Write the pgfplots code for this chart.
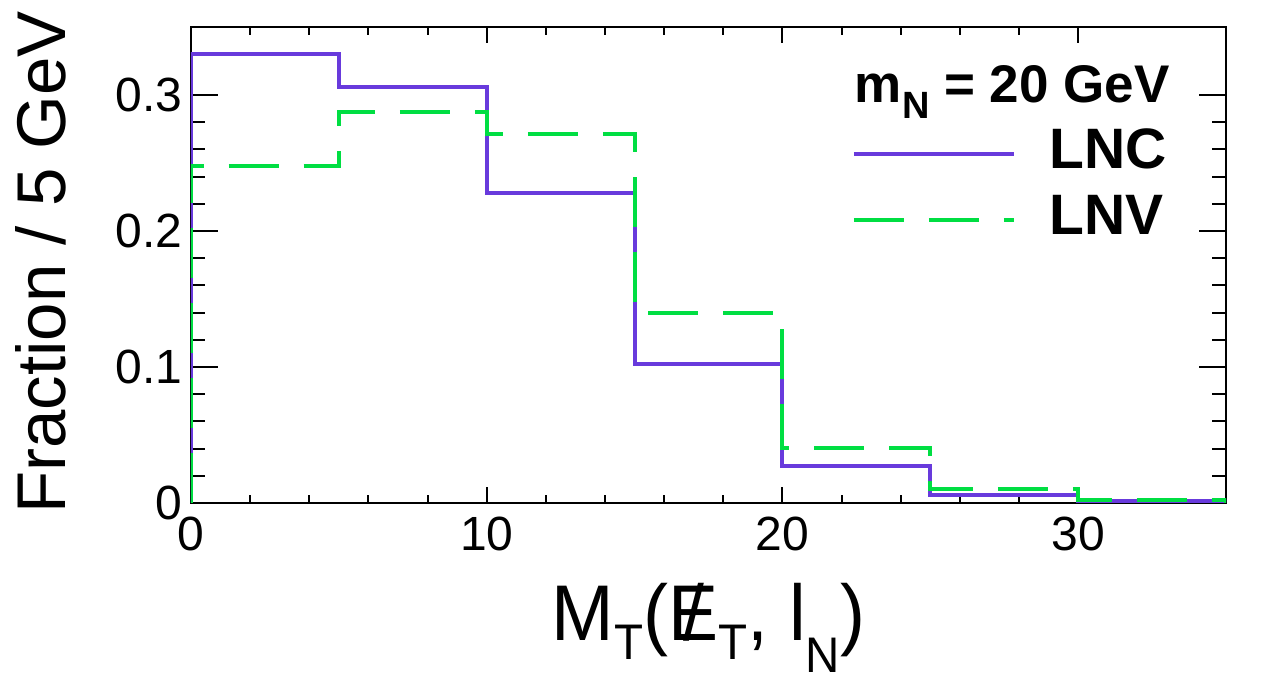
\documentclass[border=0pt]{standalone}
\usepackage{fontspec}
\setmainfont{Liberation Sans}
\usepackage{pgfplots}
\usepackage{pgfplotstable}
\pgfplotsset{compat=1.18}
\definecolor{lnc}{RGB}{104,58,220}
\definecolor{lnv}{RGB}{0,222,66}

\pgfplotstableread{
x y
0 0
0 0.330
5 0.306
10 0.228
15 0.102
20 0.0275
25 0.0062
30 0.0012
35 0.0012
35 0
}\lnctab

\pgfplotstableread{
x y
0 0
0 0.248
5 0.2876
10 0.2714
15 0.1395
20 0.0408
25 0.0103
30 0.0022
35 0.0022
35 0
}\lnvtab

\begin{document}
\begin{tikzpicture}
% overlay axis: long y ticks
\begin{axis}[
  at={(0,0)}, anchor=south west,
  scale only axis, width=517.5pt, height=238pt,
  xmin=0, xmax=35, ymin=0, ymax=0.35,
  xtick=\empty,
  ytick={0,0.1,0.2,0.3}, yticklabels={},
  minor y tick num=4,
  tick align=inside, ytick pos=both,
  major tick length=13.3pt, minor tick length=7pt,
  axis line style={line width=1pt},
  tick style={line width=1pt, black},
]
\end{axis}
\begin{axis}[
  at={(0,0)}, anchor=south west,
  scale only axis, width=517.5pt, height=238pt,
  xmin=0, xmax=35, ymin=0, ymax=0.35,
  xtick={0,10,20,30}, xticklabels={0,10,20,30},
  ytick={0,0.1,0.2,0.3}, yticklabels={0,0.1,0.2,0.3},
  minor x tick num=4, minor y tick num=4,
  tick align=inside, tick pos=both,
  major tick length=8pt, minor tick length=4pt,
  axis line style={line width=1pt},
  tick style={line width=1pt, black},
  /pgf/number format/assume math mode=true,
  ticklabel style={font=\fontsize{24}{24}\selectfont},
  yticklabel style={inner sep=0pt, xshift=-4pt},
  xticklabel style={inner sep=0pt, yshift=-7pt},
  every axis y label/.style={at={(axis description cs:-0.1217,0.5053)}, anchor=base, rotate=90, inner sep=0pt, font=\fontsize{34.5}{34.5}\selectfont},
  every axis x label/.style={at={(axis description cs:0.5,-0.2878)}, anchor=base, inner sep=0pt, xscale=0.95, font=\fontsize{39.5}{39.5}\selectfont},
  ylabel={Fraction / 5 GeV},
  xlabel={M\raisebox{-9.5pt}{\fontsize{25}{25}\selectfont T}(\ooalign{E\cr\hidewidth/\hidewidth}\raisebox{-9.5pt}{\fontsize{25}{25}\selectfont T}, l\raisebox{-16pt}{\fontsize{25}{25}\selectfont N})},
  legend cell align=left,
  legend style={at={(axis description cs:0.6386,0.7878)}, anchor=north west, draw=none, fill=none,
    inner sep=0pt, outer sep=0pt, row sep=12.5pt, column sep=17pt,
    font=\bfseries\fontsize{28.5}{28.5}\selectfont,
    nodes={inner sep=0pt, text height=20.4pt, text depth=0pt}},
  legend image code/.code={\draw[#1] (0pt,-3pt) -- (80pt,-3pt);},
]
\addplot[const plot mark left, color=lnc, line width=2pt] table[x=x,y=y] {\lnctab};
\addlegendentry{LNC}
\addplot[const plot mark left, color=lnv, line width=2pt, dash pattern=on 25pt off 12.5pt] table[x=x,y=y] {\lnvtab};
\addlegendentry{LNV}
\node[anchor=base east, inner sep=0pt, font=\bfseries\fontsize{26.5}{26.5}\selectfont] at (axis description cs:0.9459,0.8424) {m\raisebox{-8pt}{\fontsize{19}{19}\selectfont N} = 20 GeV};
\end{axis}
\pgfresetboundingbox
\useasboundingbox (-95.5pt,-89.5pt) rectangle (543.5pt,251.5pt);
\end{tikzpicture}
\end{document}
